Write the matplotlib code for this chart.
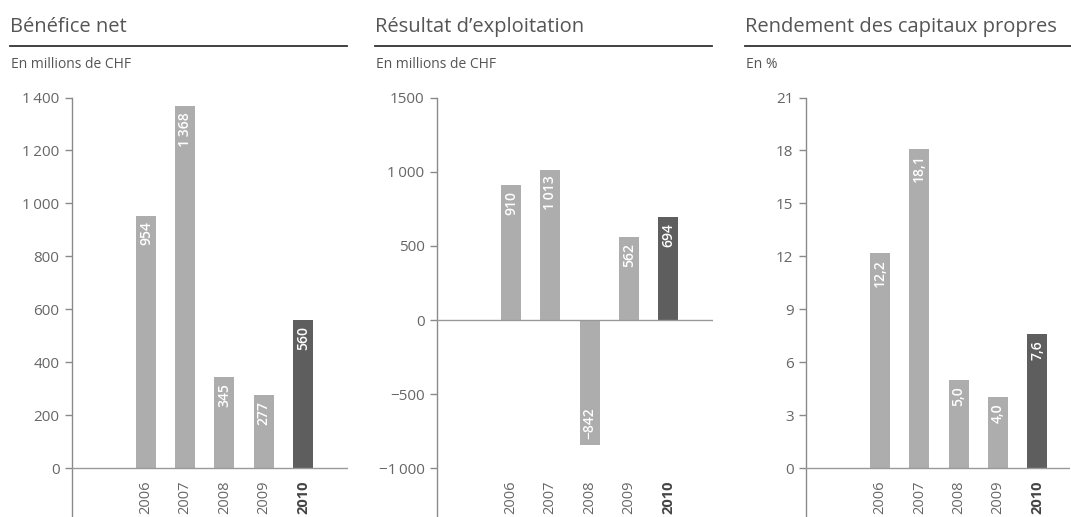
import matplotlib
matplotlib.use("Agg")
import matplotlib.pyplot as plt
from matplotlib.lines import Line2D

plt.rcParams['font.family'] = ['Open Sans', 'DejaVu Sans']

years = ["2006", "2007", "2008", "2009", "2010"]

titles = ["Bénéfice net", "Résultat d\u2019exploitation", "Rendement des capitaux propres"]
units = ["En millions de CHF", "En millions de CHF", "En %"]

benefice = [954, 1368, 345, 277, 560]
benefice_labels = ["954", "1\u2009368", "345", "277", "560"]
benefice_ticks = [0, 200, 400, 600, 800, 1000, 1200, 1400]
benefice_ticklabels = ["0", "200", "400", "600", "800", "1\u2009000", "1\u2009200", "1\u2009400"]

resultat = [910, 1013, -842, 562, 694]
resultat_labels = ["910", "1\u2009013", "\u2212842", "562", "694"]
resultat_ticks = [-1000, -500, 0, 500, 1000, 1500]
resultat_ticklabels = ["\u22121\u2009000", "\u2212500", "0", "500", "1\u2009000", "1500"]

rendement = [12.2, 18.1, 5.0, 4.0, 7.6]
rendement_labels = ["12,2", "18,1", "5,0", "4,0", "7,6"]
rendement_ticks = [0, 3, 6, 9, 12, 15, 18, 21]
rendement_ticklabels = ["0", "3", "6", "9", "12", "15", "18", "21"]

W, H = 1071, 517
fig = plt.figure(figsize=(W / 100, H / 100), dpi=100)

LIGHT = "#adadad"
DARK = "#5e5e5e"
GREY = "#666666"
AX = "#8a8a8a"

panels = [
    dict(vals=benefice, labels=benefice_labels, ticks=benefice_ticks, tl=benefice_ticklabels,
         spine=72, right=348, zero=468, ytop=1400, title_x=10, line=(10, 347)),
    dict(vals=resultat, labels=resultat_labels, ticks=resultat_ticks, tl=resultat_ticklabels,
         spine=437, right=713, zero=320, ytop=1500, title_x=375, line=(375, 712)),
    dict(vals=rendement, labels=rendement_labels, ticks=rendement_ticks, tl=rendement_ticklabels,
         spine=806, right=1070, zero=468, ytop=21, title_x=745, line=(745, 1071)),
]

TOP = 97.5
SPACING = 39.25
OFFSET = 74

for i, p in enumerate(panels):
    ax = fig.add_axes([p['spine'] / W, 0, (p['right'] - p['spine']) / W, (H - TOP) / H])
    scale = (p['zero'] - TOP) / p['ytop']
    ybot = -(H - p['zero']) / scale
    ax.set_ylim(ybot, p['ytop'])
    wpx = p['right'] - p['spine']
    ax.set_xlim(-OFFSET / SPACING, -OFFSET / SPACING + wpx / SPACING)

    x = list(range(len(years)))
    colors = [LIGHT] * 4 + [DARK]
    ax.bar(x, p['vals'], width=20 / SPACING, color=colors, zorder=2)
    ax.axhline(0, color="#999999", lw=1, zorder=3)

    off = 6 / scale
    for xi, v, lab in zip(x, p['vals'], p['labels']):
        if v >= 0:
            ax.text(xi, v - off, lab, rotation=90, ha='center', va='top', color='white',
                    fontsize=10, fontweight='semibold', zorder=4)
        else:
            ax.text(xi, v + off, lab, rotation=90, ha='center', va='bottom', color='white',
                    fontsize=10, fontweight='semibold', zorder=4)

    trans = ax.get_xaxis_transform()
    yfrac = (H - 480) / (H - TOP)
    for xi, yr in zip(x, years):
        bold = yr == "2010"
        ax.text(xi, yfrac, yr, rotation=90, ha='center', va='top', transform=trans,
                fontsize=10.5, color="#444444" if bold else GREY,
                fontweight='bold' if bold else 'normal')

    for s in ['top', 'right', 'bottom']:
        ax.spines[s].set_visible(False)
    ax.spines['left'].set_color(AX)
    ax.spines['left'].set_linewidth(1)
    ax.set_xticks([])
    ax.set_yticks(p['ticks'])
    ax.set_yticklabels(p['tl'])
    ax.tick_params(axis='y', direction='out', length=5, width=1, color=AX,
                   labelcolor=GREY, labelsize=11, pad=4)
    ax.patch.set_alpha(0)

    fig.text(p['title_x'] / W, 1 - 32 / H, titles[i], fontsize=14.5, color="#555555", va='baseline')
    fig.text((p['title_x'] + 1) / W, 1 - 68 / H, units[i], fontsize=10, color="#555555", va='baseline')
    fig.add_artist(Line2D([p['line'][0] / W, p['line'][1] / W], [1 - 46 / H, 1 - 46 / H],
                          color="#333333", lw=1.3, transform=fig.transFigure))

fig.savefig("out.png", dpi=100)
